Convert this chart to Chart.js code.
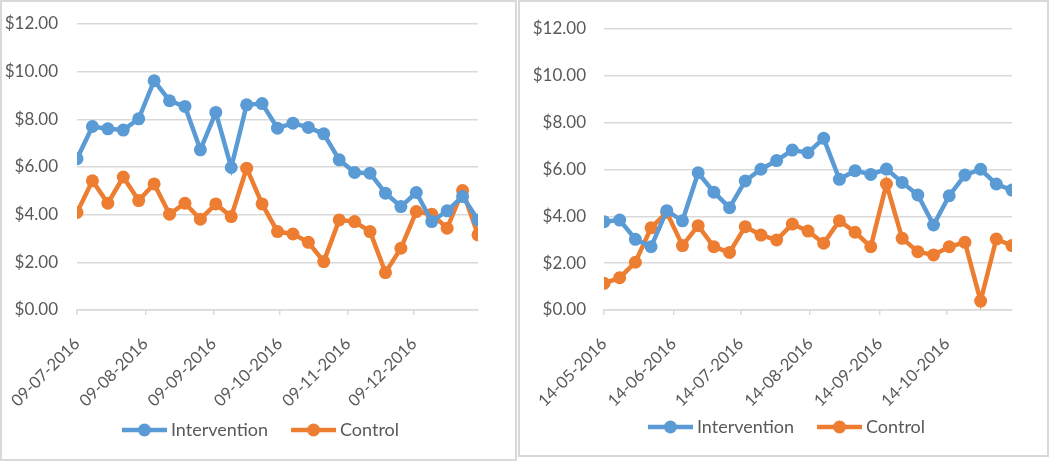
<!DOCTYPE html>
<html>
<head>
<meta charset="utf-8">
<script src="https://cdn.jsdelivr.net/npm/chart.js@4.4.1/dist/chart.umd.min.js"></script>
<style>
  body { margin: 0; background: #fff; }
  .panel { position: absolute; box-sizing: border-box; border: 2px solid #d9d9d9; background: #fff; }
  .panel div { position: absolute; left: 0; top: 0; right: 0; bottom: 0; }
</style>
</head>
<body>
<div class="panel" style="left:0;top:0;width:517px;height:461px"><div><canvas id="leftCanvas"></canvas></div></div>
<div class="panel" style="left:518px;top:0;width:531px;height:457px"><div><canvas id="rightCanvas"></canvas></div></div>
<script>
// weekly observation dates (dd-mm-yyyy)
const leftWeeks = ['09-07-2016','16-07-2016','23-07-2016','30-07-2016','06-08-2016','13-08-2016','20-08-2016',
  '27-08-2016','03-09-2016','10-09-2016','17-09-2016','24-09-2016','01-10-2016','08-10-2016','15-10-2016',
  '22-10-2016','29-10-2016','05-11-2016','12-11-2016','19-11-2016','26-11-2016','03-12-2016','10-12-2016',
  '17-12-2016','24-12-2016','31-12-2016','07-01-2017']
const leftIntervention = [6.35, 7.70, 7.60, 7.55, 8.02, 9.62, 8.78, 8.54, 6.72, 8.29, 5.98, 8.61, 8.66, 7.63,
  7.84, 7.66, 7.39, 6.30, 5.77, 5.74, 4.90, 4.34, 4.93, 3.71, 4.16, 4.76, 3.78]
const leftControl = [4.09, 5.42, 4.48, 5.58, 4.59, 5.29, 4.02, 4.48, 3.81, 4.45, 3.92, 5.95, 4.45, 3.29,
  3.19, 2.84, 2.03, 3.78, 3.71, 3.29, 1.57, 2.59, 4.13, 4.02, 3.43, 5.01, 3.15]
const leftTickLabels = ['09-07-2016', '09-08-2016', '09-09-2016', '09-10-2016', '09-11-2016', '09-12-2016']

const rightWeeks = ['14-05-2016','21-05-2016','28-05-2016','04-06-2016','11-06-2016','18-06-2016','25-06-2016',
  '02-07-2016','09-07-2016','16-07-2016','23-07-2016','30-07-2016','06-08-2016','13-08-2016','20-08-2016',
  '27-08-2016','03-09-2016','10-09-2016','17-09-2016','24-09-2016','01-10-2016','08-10-2016','15-10-2016',
  '22-10-2016','29-10-2016','05-11-2016','12-11-2016']
const rightIntervention = [3.77, 3.84, 3.02, 2.70, 4.24, 3.81, 5.86, 5.03, 4.37, 5.51, 6.01, 6.38, 6.83, 6.72,
  7.33, 5.58, 5.95, 5.79, 6.02, 5.45, 4.91, 3.63, 4.88, 5.76, 6.01, 5.38, 5.12]
const rightControl = [1.14, 1.38, 2.04, 3.51, 4.17, 2.75, 3.60, 2.70, 2.46, 3.56, 3.20, 2.99, 3.67, 3.37,
  2.85, 3.81, 3.32, 2.70, 5.38, 3.06, 2.49, 2.35, 2.70, 2.89, 0.38, 3.03, 2.75]
const rightTickLabels = ['14-05-2016', '14-06-2016', '14-07-2016', '14-08-2016', '14-09-2016', '14-10-2016']

const seriesNames = ['Intervention', 'Control']
const yTicks = [0, 2, 4, 6, 8, 10, 12]

const BLUE = '#5b9bd5'
const ORANGE = '#ed7d31'
const GRID = '#d9d9d9'
const TEXT = '#595959'
const FONT = 'Lato'

function toDay(s) {
  const [d, m, y] = s.split('-').map(Number)
  return Date.UTC(y, m - 1, d) / 864e5
}

function fmtDay(v) {
  const dt = new Date(v * 864e5)
  const pad = n => String(n).padStart(2, '0')
  return `${pad(dt.getUTCDate())}-${pad(dt.getUTCMonth() + 1)}-${dt.getUTCFullYear()}`
}

// excel style legend marker: line with a dot, with some empty room on the left
function legendMarker(color) {
  const c = document.createElement('canvas')
  c.width = 63
  c.height = 14
  const ctx = c.getContext('2d')
  ctx.strokeStyle = color
  ctx.lineWidth = 4.5
  ctx.beginPath()
  ctx.moveTo(18, 7)
  ctx.lineTo(63, 7)
  ctx.stroke()
  ctx.fillStyle = color
  ctx.beginPath()
  ctx.arc(40.5, 7, 6.5, 0, Math.PI * 2)
  ctx.fill()
  return c
}
const markers = [legendMarker(BLUE), legendMarker(ORANGE)]

// nudge the legend sideways without touching the plot area
const legendShift = {
  id: 'legendShift',
  afterLayout(chart, args, opts) {
    chart.legend.left += opts.dx
    chart.legend.right += opts.dx
  }
}

function series(name, weeks, values, color) {
  return {
    label: name,
    data: weeks.map((w, i) => ({ x: toDay(w), y: values[i] })),
    borderColor: color,
    backgroundColor: color,
    borderWidth: 4.5,
    pointRadius: 6.5,
    pointBorderWidth: 0,
    pointBackgroundColor: color,
    tension: 0
  }
}

function makeChart(id, weeks, inter, ctrl, tickLabels, lay) {
  const tickDays = tickLabels.map(toDay)
  new Chart(document.getElementById(id), {
    type: 'line',
    data: {
      datasets: [
        series(seriesNames[0], weeks, inter, BLUE),
        series(seriesNames[1], weeks, ctrl, ORANGE)
      ]
    },
    plugins: [legendShift],
    options: {
      responsive: true,
      maintainAspectRatio: false,
      animation: false,
      layout: { padding: { left: 0, right: lay.right, top: lay.top, bottom: lay.bottom } },
      plugins: {
        tooltip: { enabled: false },
        legendShift: { dx: 14 },
        legend: {
          position: 'bottom',
          labels: {
            usePointStyle: true,
            pointStyleWidth: 53,
            padding: 10,
            color: TEXT,
            font: { family: FONT, size: 18 },
            generateLabels: chart => Chart.defaults.plugins.legend.labels.generateLabels(chart)
              .map((item, i) => Object.assign(item, { pointStyle: markers[i] }))
          }
        }
      },
      scales: {
        x: {
          type: 'linear',
          min: toDay(weeks[0]),
          max: toDay(weeks[weeks.length - 1]),
          afterBuildTicks: s => { s.ticks = tickDays.map(v => ({ value: v })) },
          afterFit: s => { s.height = lay.xh; s.paddingLeft = 0; s.paddingRight = 0 },
          grid: { drawOnChartArea: false, drawTicks: true, tickLength: 5, color: GRID, lineWidth: 1.5 },
          border: { display: true, color: GRID, width: 1.5 },
          ticks: {
            autoSkip: false,
            minRotation: 45,
            maxRotation: 45,
            padding: 19,
            color: TEXT,
            font: { family: FONT, size: 16.5 },
            callback: v => fmtDay(v)
          }
        },
        y: {
          min: yTicks[0],
          max: yTicks[yTicks.length - 1],
          afterBuildTicks: s => { s.ticks = yTicks.map(v => ({ value: v })) },
          afterFit: s => { s.width = lay.yw; s.paddingTop = 0; s.paddingBottom = 0 },
          grid: { color: GRID, lineWidth: 1.5, drawTicks: false },
          border: { display: false },
          ticks: {
            padding: lay.ypad,
            color: TEXT,
            font: { family: FONT, size: 17 },
            callback: v => '$' + v.toFixed(2)
          }
        }
      }
    }
  })
}

makeChart('leftCanvas', leftWeeks, leftIntervention, leftControl, leftTickLabels,
  { right: 37, top: 22, bottom: 10, xh: 101, yw: 75, ypad: 19 })
makeChart('rightCanvas', rightWeeks, rightIntervention, rightControl, rightTickLabels,
  { right: 35, top: 27, bottom: 9, xh: 98, yw: 84, ypad: 18 })
</script>
</body>
</html>
